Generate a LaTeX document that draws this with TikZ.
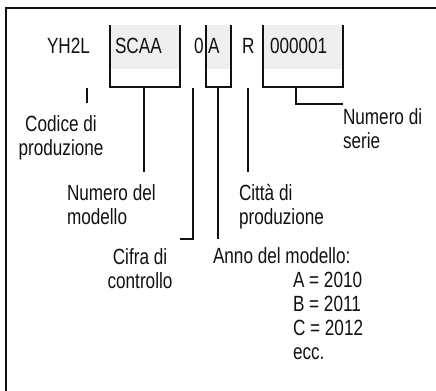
\documentclass[tikz,border=0pt]{standalone}
\usepackage{fontspec}
\setmainfont{Liberation Sans}[FakeStretch=0.78]
\usepackage{tikz}
\usetikzlibrary{calc}
\definecolor{Ink}  {HTML}{111111}
\definecolor{CodeF}{HTML}{EFEFEF}
\tikzset{
  txt/.style={
    font=\fontsize{16.5pt}{18pt}\selectfont, text=Ink,
    inner sep=0pt, outer sep=0pt,
  },
  frm/.style={draw=Ink, line width=1.8pt},
  brk/.style={draw=Ink, line width=1.5pt},
  lead/.style={draw=Ink, line width=1.5pt},
}

\begin{document}
\begin{tikzpicture}[x=0.75pt,y=-0.75pt]
    \clip (0,0) rectangle (436,390);
    \useasboundingbox (0,0) rectangle (436,390);
    \draw[frm] (6,8) rectangle (460,420);

    % shaded code fields
    \fill[CodeF] (110,25) rectangle (180,69);
    \fill[CodeF] (206,25) rectangle (231,69);
    \fill[CodeF] (263,25) rectangle (343,69);

    % code parts
    \node[txt,anchor=base west] (yh)  at (47,53)  {YH2L};
    \node[txt,anchor=base west] (mod) at (115,53) {SCAA};
    \node[txt,anchor=base west] (chk) at (194,53) {0};
    \node[txt,anchor=base west] (yr)  at (208,53) {A};
    \node[txt,anchor=base west] (cty) at (242,53) {R};
    \node[txt,anchor=base west] (ser) at (270,53) {000001};

    % brackets
    \draw[brk] (110,25) |- (180,87) -- (180,25);
    \draw[brk] (206,25) |- (231,87) -- (231,25);
    \draw[brk] (263,25) |- (343,87) -- (343,25);

    % labels (base = last line)
    \node[txt,anchor=base,align=center]      (codL) at (61,155)  {Codice di\\produzione};
    \node[txt,anchor=base west,align=left]   (modL) at (67,224)  {Numero del\\modello};
    \node[txt,anchor=base west,align=left]   (ctyL) at (239,224) {Città di\\produzione};
    \node[txt,anchor=base west,align=left]   (serL) at (343,148) {Numero di\\serie};
    \node[txt,anchor=base,align=center]      (chkL) at (140,288) {Cifra di\\controllo};
    \node[txt,anchor=base west]              (yrL)  at (213,263) {Anno del modello:};
    \node[txt,anchor=base west,align=left]   (yrV)  at (293,359) {A = 2010\\B = 2011\\C = 2012\\ecc.};

    % leaders
    \coordinate (yhA)  at (86.7,88);  \coordinate (yhB)  at (86.7,103);
    \coordinate (modA) at (143.5,87); \coordinate (modB) at (143.5,172);
    \coordinate (chkA) at (192.7,88); \coordinate (chkB) at (180,239);
    \coordinate (yrA)  at (218,87);   \coordinate (yrB)  at (218,239);
    \coordinate (ctyA) at (248,88);   \coordinate (ctyB) at (248,172);
    \coordinate (serA) at (296,87);   \coordinate (serB) at (343,104);

    \draw[lead] (yhA) -- (yhB);
    \draw[lead] (modA) -- (modB);
    \draw[lead] (chkA) |- (chkB);
    \draw[lead] (yrA) -- (yrB);
    \draw[lead] (ctyA) -- (ctyB);
    \draw[lead] (serA) |- (serB);
\end{tikzpicture}
\end{document}
